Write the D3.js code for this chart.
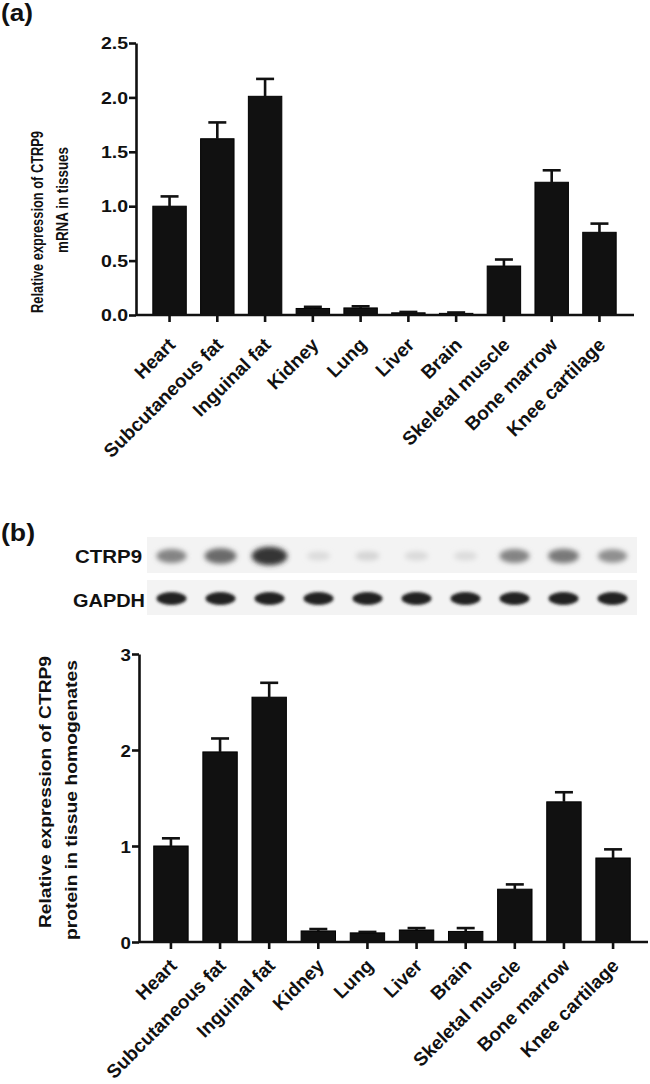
<!DOCTYPE html>
<html>
<head>
<meta charset="utf-8">
<script src="https://cdn.jsdelivr.net/npm/d3@7"></script>
<style>
  body { margin: 0; background: #fff; }
  svg text { font-family: Arial, "Liberation Sans", sans-serif; font-weight: bold; fill: #111; }
</style>
</head>
<body>
<svg id="fig" width="650" height="1084"></svg>
<script>
// tissues on the x axis of both panels
const tissues = ['Heart', 'Subcutaneous fat', 'Inguinal fat', 'Kidney', 'Lung', 'Liver',
  'Brain', 'Skeletal muscle', 'Bone marrow', 'Knee cartilage'];

// (a) relative CTRP9 mRNA, mean and error
const mrnaMean = [1.00, 1.62, 2.01, 0.06, 0.065, 0.02, 0.015, 0.45, 1.22, 0.76];
const mrnaErr = [0.09, 0.15, 0.16, 0.015, 0.015, 0.008, 0.008, 0.06, 0.11, 0.08];
const mrnaTicks = [0, 0.5, 1.0, 1.5, 2.0, 2.5];

// (b) relative CTRP9 protein, mean and error
const proteinMean = [1.00, 1.98, 2.55, 0.115, 0.095, 0.125, 0.11, 0.55, 1.46, 0.875];
const proteinErr = [0.08, 0.14, 0.15, 0.02, 0.01, 0.02, 0.035, 0.05, 0.10, 0.09];
const proteinTicks = [0, 1, 2, 3];

// western blot band density (0 = none, 1 = black)
const ctrp9Density = [0.5, 0.62, 0.86, 0.1, 0.13, 0.11, 0.1, 0.5, 0.55, 0.45];
const gapdhDensity = [0.95, 0.95, 0.95, 0.95, 0.95, 0.95, 0.95, 0.95, 0.95, 0.95];

const svg = d3.select('#fig');
const ink = '#111';

function barPanel(o) {
  const g = svg.append('g');
  const x = d3.scaleBand().domain(tissues).range(o.xRange).padding(0.3);
  const y = d3.scaleLinear().domain(o.yDomain).range(o.yRange);
  const base = y(0);

  // bars
  g.selectAll('rect.bar')
    .data(o.mean)
    .join('rect')
    .attr('class', 'bar')
    .attr('x', (d, i) => x(tissues[i]))
    .attr('width', x.bandwidth())
    .attr('y', d => y(d))
    .attr('height', d => base - y(d))
    .attr('fill', ink)
    .attr('stroke', '#000')
    .attr('stroke-width', 1);

  // error bars (upper only)
  const eb = g.selectAll('g.err')
    .data(o.mean.map((m, i) => ({ m, e: o.err[i], c: x(tissues[i]) + x.bandwidth() / 2 })))
    .join('g')
    .attr('class', 'err')
    .attr('stroke', ink)
    .attr('stroke-width', 2.6);
  eb.append('line')
    .attr('x1', d => d.c).attr('x2', d => d.c)
    .attr('y1', d => y(d.m)).attr('y2', d => y(d.m + d.e));
  eb.append('line')
    .attr('x1', d => d.c - 9).attr('x2', d => d.c + 9)
    .attr('y1', d => y(d.m + d.e)).attr('y2', d => y(d.m + d.e));

  // y axis
  const ya = g.append('g')
    .attr('transform', `translate(${o.axisX},0)`)
    .call(d3.axisLeft(y).tickValues(o.ticks).tickFormat(o.fmt).tickSize(7).tickSizeOuter(0));
  ya.select('.domain').attr('stroke', ink).attr('stroke-width', 2.6);
  ya.selectAll('.tick line').attr('stroke', ink).attr('stroke-width', 2.6);
  ya.selectAll('.tick text')
    .attr('font-size', o.tickFont)
    .attr('transform', `scale(${o.tickStretch},1)`)
    .attr('x', -8 / o.tickStretch)
    .attr('dy', '0.36em')
    .style('fill', ink);

  // x axis
  const xa = g.append('g')
    .attr('transform', `translate(0,${base})`)
    .call(d3.axisBottom(x).tickSize(7).tickSizeOuter(0));
  xa.select('.domain')
    .attr('d', `M${o.axisX},0H${o.axisEnd}`)
    .attr('stroke', ink).attr('stroke-width', 2.6);
  xa.selectAll('.tick line').attr('stroke', ink).attr('stroke-width', 2.6);
  xa.selectAll('.tick text')
    .attr('x', 0).attr('y', 0).attr('dy', 0)
    .attr('text-anchor', 'end')
    .attr('font-size', 19)
    .attr('transform', `translate(7,${o.labelDrop}) rotate(-45)`)
    .style('fill', ink);

  // y title lines
  o.title.forEach(t => {
    g.append('text')
      .attr('transform', `translate(${t.x},${t.y}) rotate(-90)`)
      .attr('text-anchor', 'middle')
      .attr('font-size', t.size)
      .attr('textLength', t.len)
      .attr('lengthAdjust', 'spacingAndGlyphs')
      .text(t.text);
  });
}

// panel letters
svg.append('text').attr('x', 1).attr('y', 21).attr('font-size', 24)
  .attr('textLength', 32).attr('lengthAdjust', 'spacingAndGlyphs').text('(a)');
svg.append('text').attr('x', 1).attr('y', 541).attr('font-size', 23)
  .attr('textLength', 34).attr('lengthAdjust', 'spacingAndGlyphs').text('(b)');

// (a)
barPanel({
  mean: mrnaMean, err: mrnaErr, ticks: mrnaTicks, fmt: d3.format('.1f'),
  xRange: [138.5, 630.5], yDomain: [0, 2.5], yRange: [315, 43],
  axisX: 136, axisEnd: 634, tickFont: 16, tickStretch: 1.22, labelDrop: 31,
  title: [
    { text: 'Relative expression of CTRP9', x: 43, y: 222, len: 182, size: 17 },
    { text: 'mRNA in tissues', x: 68, y: 200, len: 106, size: 17 }
  ]
});

// western blot
const defs = svg.append('defs');
defs.append('filter').attr('id', 'blurS').attr('x', '-50%').attr('y', '-80%')
  .attr('width', '200%').attr('height', '260%')
  .append('feGaussianBlur').attr('stdDeviation', 2.8);
defs.append('filter').attr('id', 'blurG').attr('x', '-50%').attr('y', '-80%')
  .attr('width', '200%').attr('height', '260%')
  .append('feGaussianBlur').attr('stdDeviation', 1.6);

const lane = d3.scaleBand().domain(tissues).range([147, 637]);
const shade = d3.interpolateRgb('#f2f2f2', '#161616');
const blot = svg.append('g');

const strips = [
  { name: 'CTRP9', y0: 537, y1: 573, dens: ctrp9Density, lab: { y: 563, size: 18, len: 67, right: 142 } },
  { name: 'GAPDH', y0: 580, y1: 615, dens: gapdhDensity, lab: { y: 607, size: 19, len: 72, right: 145 } }
];
strips.forEach((s, k) => {
  blot.append('rect')
    .attr('x', lane.range()[0]).attr('width', lane.range()[1] - lane.range()[0])
    .attr('y', s.y0).attr('height', s.y1 - s.y0)
    .attr('fill', '#f3f3f3');
  blot.append('g')
    .attr('filter', k === 0 ? 'url(#blurS)' : 'url(#blurG)')
    .selectAll('ellipse')
    .data(s.dens)
    .join('ellipse')
    .attr('cx', (d, i) => lane(tissues[i]) + lane.bandwidth() / 2)
    .attr('cy', (s.y0 + s.y1) / 2 + 1)
    .attr('rx', d => k === 0 ? 11 + 8 * d : 15)
    .attr('ry', d => k === 0 ? 4 + 6 * d : 6.5)
    .attr('fill', d => shade(d));
  blot.append('text')
    .attr('x', s.lab.right).attr('y', s.lab.y)
    .attr('text-anchor', 'end')
    .attr('font-size', s.lab.size)
    .attr('textLength', s.lab.len)
    .attr('lengthAdjust', 'spacingAndGlyphs')
    .text(s.name);
});

// (b)
barPanel({
  mean: proteinMean, err: proteinErr, ticks: proteinTicks, fmt: d3.format('d'),
  xRange: [139, 645], yDomain: [0, 3], yRange: [942, 654],
  axisX: 139, axisEnd: 648, tickFont: 17, tickStretch: 1.1, labelDrop: 25,
  title: [
    { text: 'Relative expression of CTRP9', x: 51, y: 792, len: 272, size: 17 },
    { text: 'protein in tissue homogenates', x: 77, y: 800, len: 280, size: 17 }
  ]
});
</script>
</body>
</html>
